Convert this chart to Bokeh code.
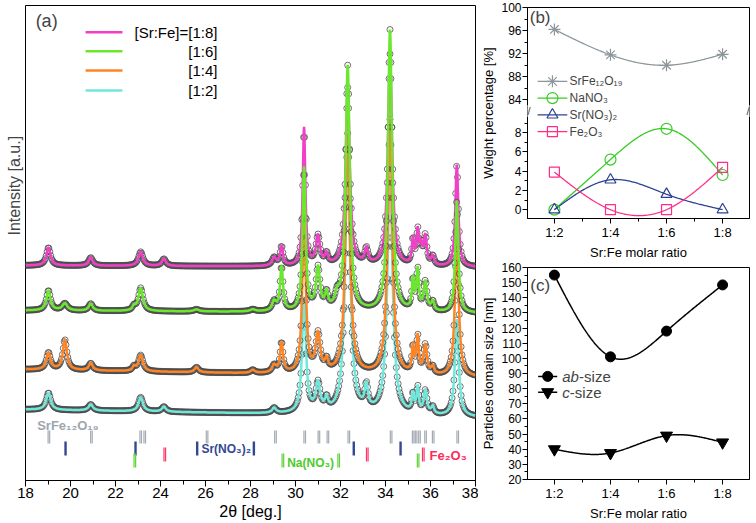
import numpy as np
from bokeh.plotting import figure
from bokeh.layouts import row, column
from bokeh.models import FixedTicker, Label, Range1d, Title
from bokeh.core.properties import value
from bokeh.embed import file_html
from bokeh.resources import INLINE

FONT = "Liberation Sans"

# ================= Panel (a): XRD patterns =================
two_theta_major = list(range(18, 39, 2))
two_theta_minor = list(range(19, 38, 2))

series_names = ["[Sr:Fe]=[1:8]", "[1:6]", "[1:4]", "[1:2]"]
series_colors = ["#f23fc8", "#6be82e", "#ff8424", "#6fe8dc"]

# peak position (2theta), height (a.u.), half width (deg)
p18_pos = [19.02, 20.90, 23.12, 24.15, 29.05, 29.38, 30.38, 31.00, 31.38, 32.32, 33.15, 34.20, 35.22, 35.43, 35.58, 35.77, 36.10, 37.17]
p18_h = [18, 8, 14, 7, 8, 19, 138, 29, 10, 178, 15, 212, 25, 33, 17, 29, 9, 102]
p18_w = [0.11, 0.11, 0.12, 0.11, 0.11, 0.08, 0.07, 0.11, 0.08, 0.11, 0.09, 0.11, 0.06, 0.06, 0.06, 0.08, 0.08, 0.08]
p18_base = [215, 213]

p16_pos = [19.02, 19.75, 20.90, 22.82, 23.12, 25.60, 28.10, 29.05, 29.38, 30.38, 31.00, 31.38, 31.85, 32.32, 34.20, 35.22, 35.43, 35.77, 36.10, 37.17]
p16_h = [20, 7, 7, 4, 23, 2, 2, 9, 44, 143, 42, 15, 12, 245, 282, 30, 40, 29, 9, 112]
p16_w = [0.11, 0.14, 0.11, 0.08, 0.12, 0.14, 0.14, 0.11, 0.08, 0.08, 0.11, 0.08, 0.12, 0.11, 0.11, 0.06, 0.06, 0.09, 0.08, 0.08]
p16_base = [170, 167]

p14_pos = [19.02, 19.75, 20.90, 22.82, 23.12, 25.60, 28.10, 29.05, 29.38, 30.38, 31.00, 31.38, 32.32, 34.20, 35.22, 35.43, 35.77, 36.10, 37.17]
p14_h = [17, 30, 7, 4, 16, 5, 3, 7, 30, 158, 38, 10, 240, 255, 26, 36, 29, 7, 137]
p14_w = [0.11, 0.11, 0.11, 0.08, 0.12, 0.11, 0.11, 0.11, 0.08, 0.09, 0.12, 0.08, 0.12, 0.12, 0.06, 0.06, 0.09, 0.08, 0.10]
p14_base = [111, 103]

p12_pos = [19.02, 20.90, 23.12, 24.15, 29.05, 30.38, 31.00, 31.38, 32.32, 33.15, 34.20, 35.22, 35.43, 35.77, 36.10, 37.17]
p12_h = [17, 6, 14, 5, 5, 115, 28, 11, 244, 23, 234, 18, 25, 23, 7, 97]
p12_w = [0.12, 0.12, 0.12, 0.11, 0.11, 0.10, 0.12, 0.08, 0.14, 0.09, 0.14, 0.06, 0.06, 0.09, 0.08, 0.10]
p12_base = [71, 63]

# reference (Bragg) positions
srfe_pos = [19.04, 20.93, 23.12, 23.30, 26.07, 29.11, 30.41, 31.04, 31.44, 32.37, 34.25, 35.23, 35.36, 35.51, 35.78, 36.12, 37.21]
srno3_pos = [19.78, 22.89, 25.63, 28.15, 32.59, 34.67]
fe2o3_pos = [24.19, 33.19, 35.68]
nano3_pos = [22.86, 29.44, 31.92, 35.45]

# ================= Panel (b): weight percentage =================
ratios = ["1:2", "1:4", "1:6", "1:8"]
w_srfe = [96.2, 91.8, 90.0, 91.9]
w_nano3 = [0.0, 5.2, 8.4, 3.6]
w_srno3 = [0.0, 3.1, 1.6, 0.0]
w_fe2o3 = [3.9, 0.0, 0.0, 4.4]
b_lower_ticks = [0, 2, 4, 6, 8]
b_upper_ticks = [84, 88, 92, 96, 100]

# ================= Panel (c): domain size =================
ab_size = [155, 101, 118, 148.5]
c_size = [40, 37.5, 49, 44.5]


def profile(x, pos, h, w, base):
    y = base[0] + (base[1] - base[0]) * (x - 18) / 20
    for p0, h0, w0 in zip(pos, h, w):
        y = y + h0 * w0 ** 2 / ((x - p0) ** 2 + w0 ** 2)
    return y


def nat_spline(xk, yk, n=200):
    xk = np.asarray(xk, float)
    yk = np.asarray(yk, float)
    m = len(xk)
    h = np.diff(xk)
    A = np.zeros((m, m))
    r = np.zeros(m)
    A[0, 0] = 1
    A[-1, -1] = 1
    for i in range(1, m - 1):
        A[i, i - 1] = h[i - 1]
        A[i, i] = 2 * (h[i - 1] + h[i])
        A[i, i + 1] = h[i]
        r[i] = 6 * ((yk[i + 1] - yk[i]) / h[i] - (yk[i] - yk[i - 1]) / h[i - 1])
    M = np.linalg.solve(A, r)
    xs = np.linspace(xk[0], xk[-1], n)
    idx = np.clip(np.searchsorted(xk, xs) - 1, 0, m - 2)
    x0 = xk[idx]
    x1 = xk[idx + 1]
    hh = x1 - x0
    t0 = x1 - xs
    t1 = xs - x0
    ys = (M[idx] * t0 ** 3 / (6 * hh) + M[idx + 1] * t1 ** 3 / (6 * hh)
          + (yk[idx] / hh - M[idx] * hh / 6) * t0 + (yk[idx + 1] / hh - M[idx + 1] * hh / 6) * t1)
    return xs, ys


def style_axes(p, tick_size, label_size):
    for ax in p.axis:
        ax.major_tick_in = 0
        ax.minor_tick_in = 0
        ax.major_tick_out = 5
        ax.minor_tick_out = 3
        ax.axis_line_color = "black"
        ax.major_tick_line_color = "black"
        ax.minor_tick_line_color = "black"
        ax.major_label_text_font = FONT
        ax.major_label_text_font_size = tick_size
        ax.major_label_text_color = "black"
        ax.axis_label_text_font = FONT
        ax.axis_label_text_font_size = label_size
        ax.axis_label_text_font_style = "normal"
        ax.axis_label_text_color = "black"
        ax.major_label_standoff = 1
        ax.axis_label_standoff = 2
    p.xgrid.visible = False
    p.ygrid.visible = False
    p.outline_line_color = "black"
    p.outline_line_alpha = 1
    p.outline_line_width = 1
    p.background_fill_color = "white"
    p.border_fill_color = "white"


# ---------------- figure (a) ----------------
pa = figure(width=478, height=523, x_range=Range1d(18, 38), y_range=Range1d(0, 475),
            output_backend="svg", toolbar_location=None, y_axis_location=None,
            min_border_left=25, min_border_right=3, min_border_top=5, min_border_bottom=43)
style_axes(pa, "15px", "16px")
pa.xaxis.ticker = FixedTicker(ticks=two_theta_major, minor_ticks=two_theta_minor)
pa.xaxis.major_tick_out = 6
pa.xaxis.minor_tick_out = 4
pa.xaxis.axis_label = "2θ [deg.]"

patterns = [
    (p12_pos, p12_h, p12_w, p12_base, series_colors[3]),
    (p14_pos, p14_h, p14_w, p14_base, series_colors[2]),
    (p18_pos, p18_h, p18_w, p18_base, series_colors[0]),
    (p16_pos, p16_h, p16_w, p16_base, series_colors[1]),
]
xf = np.arange(18, 38.0001, 0.01)
xo = np.arange(18, 38.0001, 0.04)
for pos, h, w, base, col in patterns:
    pa.scatter(xo, profile(xo, pos, h, w, base), marker="circle", size=6,
               fill_color=None, line_color="#4d4d4d", line_width=0.8)
    pa.line(xf, profile(xf, pos, h, w, base), line_color=col, line_width=2.5)


def double_ticks(p, pos, y0, y1, color, dx=0.035, lw=1.2):
    pos = np.asarray(pos)
    xs = np.concatenate([pos - dx, pos + dx])
    p.segment(x0=xs, x1=xs, y0=[y0] * len(xs), y1=[y1] * len(xs), line_color=color, line_width=lw)


double_ticks(pa, srfe_pos, 37, 50, "#a3abb2")
pa.segment(x0=srno3_pos, x1=srno3_pos, y0=[25] * len(srno3_pos), y1=[39] * len(srno3_pos),
           line_color="#34488f", line_width=2.4)
double_ticks(pa, fe2o3_pos, 19, 33, "#ff3366")
double_ticks(pa, nano3_pos, 13, 27, "#5fd23a")

for txt, x, y, col, fs in [("SrFe₁₂O₁₉", 18.52, 55, "#9ea6ad", "13px"),
                           ("Sr(NO₃)₂", 25.82, 32, "#34488f", "12px"),
                           ("Na(NO₃)", 29.63, 18, "#4ccc2a", "12px"),
                           ("Fe₂O₃", 35.96, 25, "#ff2a5a", "13px")]:
    pa.add_layout(Label(x=x, y=y, text=txt, text_color=col, text_font=FONT, text_font_size=fs,
                        text_font_style="bold", text_baseline="middle", text_align="left"))

# legend (a)
leg_y = [448.3, 429.3, 410, 390]
pa.segment(x0=[20.67] * 4, x1=[22.31] * 4, y0=leg_y, y1=leg_y, line_color=series_colors, line_width=2.5)
pa.text(x=[26.53] * 4, y=leg_y, text=series_names, text_align="right", text_baseline="middle",
        text_font=value(FONT), text_font_size="15px", text_color="black")
pa.add_layout(Label(x=18.45, y=460, text="(a)", text_font=FONT, text_font_size="18px",
                    text_baseline="middle"))
pa.add_layout(Title(text="Intensity [a.u.]", align="left", offset=245, standoff=5,
                    text_font=FONT, text_font_size="16px", text_font_style="normal"), "left")

# ---------------- figure (b) ----------------
UP0, UPS = 11.4, 0.6


def wy(v):
    v = np.asarray(v, float)
    return np.where(v > 50, UP0 + (v - 84) * UPS, v)


xb = np.arange(len(ratios))
pb = figure(width=278, height=262, x_range=Range1d(-0.48, 3.48), y_range=Range1d(-0.92, float(wy(100))),
            output_backend="svg", toolbar_location=None,
            min_border_left=49, min_border_right=7, min_border_top=7, min_border_bottom=40)
style_axes(pb, "12px", "13px")
pb.xaxis.ticker = FixedTicker(ticks=list(xb), minor_ticks=[-0.5, 0.5, 1.5, 2.5, 3.5])
pb.xaxis.major_label_overrides = {int(i): r for i, r in zip(xb, ratios)}
pb.xaxis.major_label_text_font_size = "13px"
pb.xaxis.axis_label = "Sr:Fe molar ratio"
upper_pos = [float(wy(t)) for t in b_upper_ticks]
ticks_b = [float(t) for t in b_lower_ticks] + upper_pos
minor_b = [1.0, 3.0, 5.0, 7.0, 9.0] + [float(wy(t)) for t in [86, 90, 94, 98]]
pb.yaxis.ticker = FixedTicker(ticks=ticks_b, minor_ticks=minor_b)
overrides = {float(t): str(t) for t in b_lower_ticks}
overrides.update({u: str(t) for u, t in zip(upper_pos, b_upper_ticks)})
pb.yaxis.major_label_overrides = overrides
pb.yaxis.axis_label = "Weight percentage [%]"

b_series = [
    (w_srfe, "#8c979c", "asterisk", 12, "SrFe₁₂O₁₉"),
    (w_nano3, "#36cc22", "circle", 11, "NaNO₃"),
    (w_srno3, "#2d4191", "triangle", 11, "Sr(NO₃)₂"),
    (w_fe2o3, "#ff2d86", "square", 10, "Fe₂O₃"),
]
for vals, col, mk, sz, name in b_series:
    sx, sy = nat_spline(xb, vals)
    pb.line(sx, wy(sy), line_color=col, line_width=1.3)
for vals, col, mk, sz, name in b_series:
    pb.scatter(xb, wy(vals), marker=mk, size=sz, fill_color=None, line_color=col, line_width=1.2)

leg_b_y = [13.33, 11.59, 9.85, 8.10]
for (vals, col, mk, sz, name), ly in zip(b_series, leg_b_y):
    pb.segment(x0=[-0.30], x1=[0.23], y0=[ly], y1=[ly], line_color=col, line_width=1.3)
    pb.scatter([-0.035], [ly], marker=mk, size=sz, fill_color=None, line_color=col, line_width=1.2)
    pb.add_layout(Label(x=0.27, y=ly, text=name, text_font=FONT, text_font_size="12px",
                        text_baseline="middle", text_align="left"))
pb.add_layout(Label(x=-0.44, y=20.0, text="(b)", text_font=FONT, text_font_size="17px",
                    text_baseline="middle"))
for bx in (-0.48, 3.48):
    pb.add_layout(Label(x=bx, y=10.26, text="//", text_font=FONT, text_font_size="11px",
                        text_align="center", text_baseline="middle",
                        background_fill_color="white"))

# ---------------- figure (c) ----------------
pc = figure(width=278, height=261, x_range=Range1d(-0.48, 3.48), y_range=Range1d(20, 160),
            output_backend="svg", toolbar_location=None,
            min_border_left=49, min_border_right=7, min_border_top=5, min_border_bottom=40)
style_axes(pc, "12px", "13px")
pc.xaxis.ticker = FixedTicker(ticks=list(xb), minor_ticks=[-0.5, 0.5, 1.5, 2.5, 3.5])
pc.xaxis.major_label_overrides = {int(i): r for i, r in zip(xb, ratios)}
pc.xaxis.major_label_text_font_size = "13px"
pc.xaxis.axis_label = "Sr:Fe molar ratio"
pc.yaxis.ticker = FixedTicker(ticks=list(range(20, 161, 10)), minor_ticks=list(range(25, 160, 10)))
pc.yaxis.axis_label = "Particles domain size [nm]"

sx, sy = nat_spline(xb, ab_size)
pc.line(sx, sy, line_color="black", line_width=1.5)
sx, sy = nat_spline(xb, c_size)
pc.line(sx, sy, line_color="black", line_width=1.5)
pc.scatter(xb, ab_size, marker="circle", size=10, fill_color="black", line_color="black")
pc.scatter(xb, c_size, marker="inverted_triangle", size=12, fill_color="black", line_color="black")

for ly, mk, sz, it, rest, dx in [(88.1, "circle", 10, "ab", "-size", 0.30), (77.7, "inverted_triangle", 12, "c", "-size", 0.135)]:
    pc.segment(x0=[-0.29], x1=[0.05], y0=[ly], y1=[ly], line_color="black", line_width=1.5)
    pc.scatter([-0.12], [ly], marker=mk, size=sz, fill_color="black", line_color="black")
    pc.add_layout(Label(x=0.14, y=ly, text=it, text_font=FONT, text_font_size="15px",
                        text_font_style="italic", text_baseline="middle"))
    pc.add_layout(Label(x=0.14 + dx, y=ly, text=rest, text_font=FONT, text_font_size="15px",
                        text_baseline="middle"))
pc.add_layout(Label(x=-0.43, y=148.3, text="(c)", text_font=FONT, text_font_size="17px",
                    text_baseline="middle"))

layout = row(pa, column(pb, pc))
open("out.html", "w").write(file_html(layout, INLINE))
